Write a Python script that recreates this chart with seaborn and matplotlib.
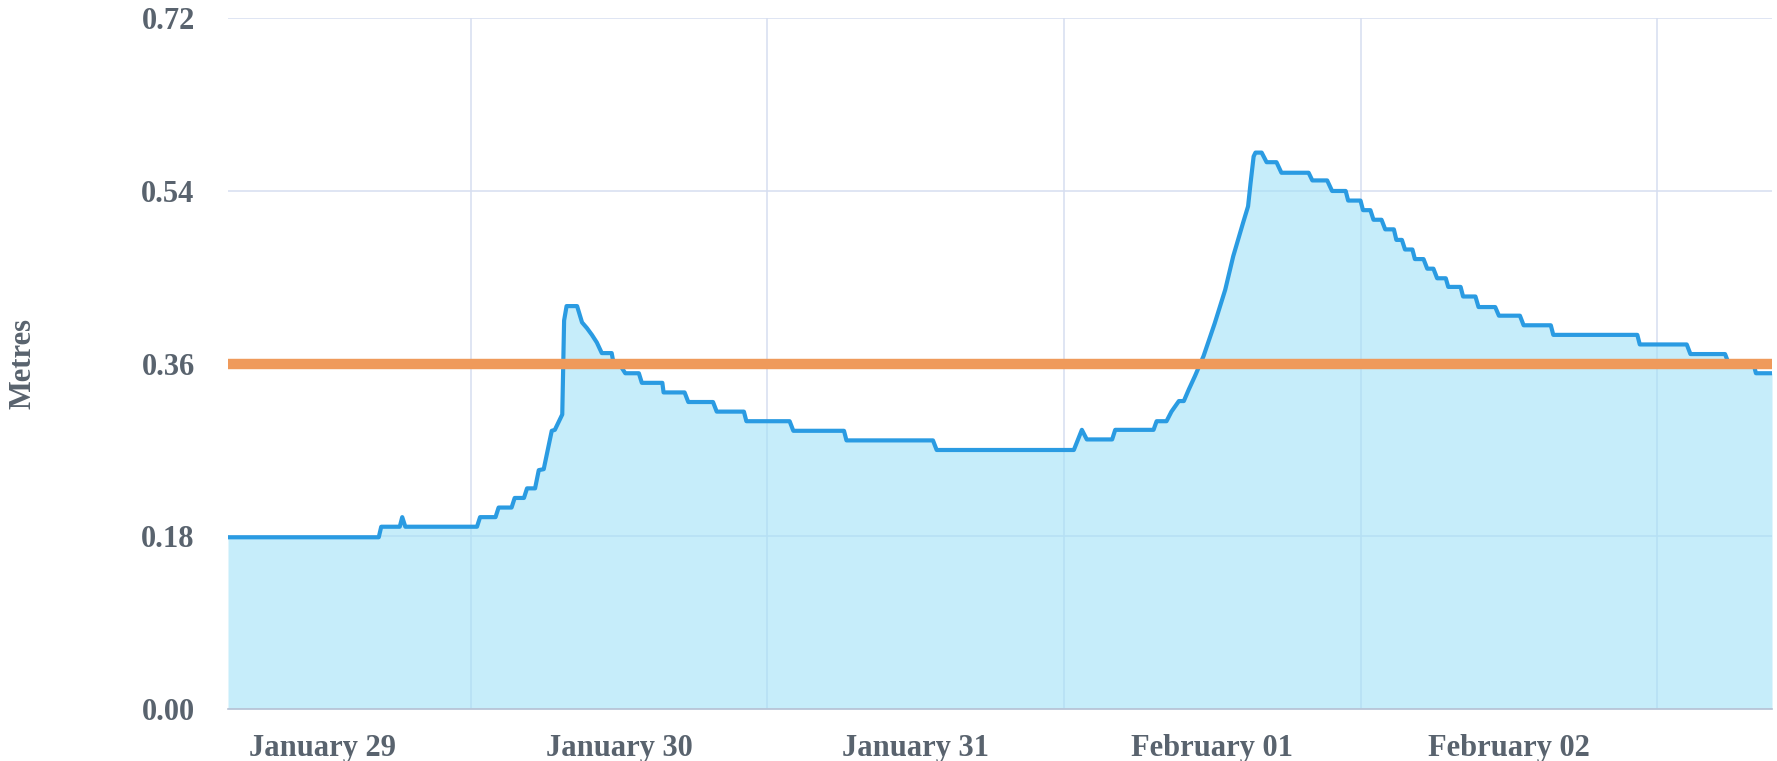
import matplotlib
matplotlib.use("Agg")
import matplotlib.pyplot as plt
import seaborn as sns
import pandas as pd

# ---- data (hours since January 29, 00:00) ----
hours = [
    4.35, 16.55, 16.75, 18.25, 18.45, 18.7, 24.5, 24.75, 26.0, 26.25,
    27.3, 27.55, 28.3, 28.55, 29.2, 29.5, 29.9, 30.55, 30.8, 31.4,
    31.55, 31.75, 32.6, 33.0, 33.4, 33.8, 34.2, 34.6, 35.4, 35.5,
    36.2, 36.5, 37.6, 37.84, 39.5, 39.6, 41.3, 41.6, 43.6, 43.9,
    46.1, 46.3, 49.8, 50.1, 54.2, 54.4, 61.4, 61.7, 72.8, 73.45,
    73.85, 75.9, 76.15, 79.25, 79.5, 80.3, 80.7, 81.3, 81.7, 82.1,
    82.6, 83.3, 84.2, 85.05, 85.7, 86.5, 86.9, 87.1, 87.35, 87.5,
    88.0, 88.4, 89.2, 89.6, 91.8, 92.1, 93.3, 93.7, 94.8, 95.0,
    96.0, 96.2, 96.8, 97.05, 97.7, 98.0, 98.7, 98.9, 99.35, 99.6,
    100.2, 100.4, 101.1, 101.4, 101.9, 102.2, 102.9, 103.1, 104.1, 104.3,
    105.3, 105.55, 106.9, 107.2, 108.9, 109.2, 111.4, 111.6, 118.4, 118.6,
    122.4, 122.7, 125.5, 125.8, 127.8, 128.0, 129.3,
]
levels = [
    0.179, 0.179, 0.190, 0.190, 0.200, 0.190, 0.190, 0.200, 0.200, 0.210,
    0.210, 0.220, 0.220, 0.230, 0.230, 0.249, 0.250, 0.290, 0.291, 0.307,
    0.405, 0.420, 0.420, 0.403, 0.397, 0.390, 0.382, 0.371, 0.371, 0.364,
    0.356, 0.350, 0.350, 0.340, 0.340, 0.330, 0.330, 0.320, 0.320, 0.310,
    0.310, 0.300, 0.300, 0.290, 0.290, 0.280, 0.280, 0.270, 0.270, 0.291,
    0.281, 0.281, 0.291, 0.291, 0.300, 0.300, 0.310, 0.321, 0.321, 0.333,
    0.347, 0.368, 0.402, 0.437, 0.472, 0.507, 0.524, 0.548, 0.576, 0.580,
    0.580, 0.570, 0.570, 0.559, 0.559, 0.551, 0.551, 0.540, 0.540, 0.530,
    0.530, 0.520, 0.520, 0.510, 0.510, 0.500, 0.500, 0.489, 0.489, 0.479,
    0.479, 0.469, 0.469, 0.459, 0.459, 0.449, 0.449, 0.440, 0.440, 0.430,
    0.430, 0.419, 0.419, 0.410, 0.410, 0.400, 0.400, 0.390, 0.390, 0.380,
    0.380, 0.370, 0.370, 0.360, 0.360, 0.350, 0.350,
]
threshold = 0.36

y_ticks = [0.00, 0.18, 0.36, 0.54, 0.72]
y_tick_labels = ["0.00", "0.18", "0.36", "0.54", "0.72"]
day_boundaries = [24, 48, 72, 96, 120]
day_label_pos = [12, 36, 60, 84, 108]
day_labels = ["January 29", "January 30", "January 31", "February 01", "February 02"]
y_title = "Metres"

df = pd.DataFrame({"hour": hours, "level": levels})

# ---- styling ----
sns.set_theme(style="white")
plt.rcParams["font.family"] = ["Liberation Serif", "DejaVu Serif"]
plt.rcParams["font.weight"] = "bold"

text_color = "#59636E"
grid_color = "#D6DEF0"
line_color = "#2A9BE2"
fill_color = "#A0E1F7"
orange = "#EF9A5B"

fig = plt.figure(figsize=(17.77, 7.61), dpi=100)
ax = fig.add_axes([228 / 1777, 1 - 709 / 761, (1772 - 228) / 1777, (709 - 18.3) / 761])

ax.fill_between(df["hour"], df["level"], 0, color=fill_color, alpha=0.6, lw=0, zorder=1)
sns.lineplot(data=df, x="hour", y="level", ax=ax, color=line_color, lw=3,
             sort=False, estimator=None, zorder=3)
ax.axhline(threshold, color=orange, lw=7.5, zorder=4, solid_capstyle="butt")

ax.set_xlim(hours[0], hours[-1])
ax.set_ylim(0, 0.72)

ax.set_yticks(y_ticks)
ax.set_yticklabels(y_tick_labels)
ax.set_xticks(day_boundaries)
ax.set_xticklabels([])
ax.set_xticks(day_label_pos, minor=True)
ax.set_xticklabels(day_labels, minor=True)

ax.grid(True, which="major", axis="both", color=grid_color, lw=1.1, zorder=0)
ax.set_axisbelow(True)

ax.tick_params(axis="y", which="both", length=0, pad=24, labelsize=22, labelcolor=text_color)
ax.tick_params(axis="x", which="both", length=0, pad=18, labelsize=22, labelcolor=text_color)
for lab in ax.get_yticklabels() + ax.get_xticklabels(minor=True):
    lab.set_fontweight("bold")

ax.set_xlabel("")
ax.set_ylabel("")
fig.text(23 / 1777, 1 - 364 / 761, y_title, rotation=90, ha="center", va="center",
         fontsize=22, fontweight="bold", color=text_color)

for s in ["top", "right", "left"]:
    ax.spines[s].set_visible(False)
ax.spines["bottom"].set_color("#B8C2D4")
ax.spines["bottom"].set_linewidth(1.2)
ax.spines["bottom"].set_zorder(5)

fig.savefig("out.png", dpi=100)
